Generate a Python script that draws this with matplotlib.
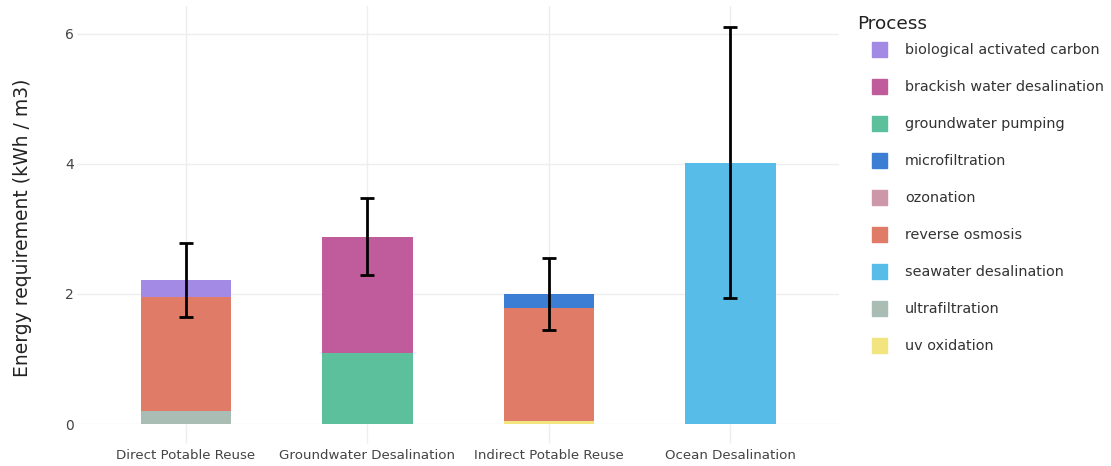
import matplotlib.pyplot as plt
import numpy as np
from matplotlib.patches import Rectangle

# data
scenarios = ['Direct Potable Reuse', 'Groundwater Desalination',
             'Indirect Potable Reuse', 'Ocean Desalination']
processes = ['biological activated carbon', 'brackish water desalination',
             'groundwater pumping', 'microfiltration', 'ozonation',
             'reverse osmosis', 'seawater desalination', 'ultrafiltration',
             'uv oxidation']
colors = ['#A38AE4', '#C05C9B', '#5CC09C', '#3C7ED3', '#CC97A9',
          '#E07B68', '#57BDE8', '#A9BDB5', '#F2E47E']

# stacking order, bottom to top
stack_order = ['uv oxidation', 'ultrafiltration', 'groundwater pumping',
               'ozonation', 'reverse osmosis', 'brackish water desalination',
               'seawater desalination', 'microfiltration',
               'biological activated carbon']

energy = {
    'biological activated carbon': [0.27, 0.0, 0.0, 0.0],
    'brackish water desalination': [0.0, 1.79, 0.0, 0.0],
    'groundwater pumping': [0.0, 1.09, 0.0, 0.0],
    'microfiltration': [0.0, 0.0, 0.22, 0.0],
    'ozonation': [0.0, 0.0, 0.0, 0.0],
    'reverse osmosis': [1.75, 0.0, 1.74, 0.0],
    'seawater desalination': [0.0, 0.0, 0.0, 4.02],
    'ultrafiltration': [0.20, 0.0, 0.0, 0.0],
    'uv oxidation': [0.0, 0.0, 0.04, 0.0],
}
err_low = [1.65, 2.29, 1.45, 1.94]
err_high = [2.78, 3.48, 2.55, 6.10]

fig = plt.figure(figsize=(11.11, 4.66), dpi=100)
ax = fig.add_axes([0.0693, 0.0901, 0.6862, 0.897])

x = np.arange(len(scenarios))
bottom = np.zeros(len(scenarios))
for p in stack_order:
    vals = np.array(energy[p])
    ax.bar(x, vals, width=0.5, bottom=bottom,
           color=colors[processes.index(p)], zorder=2)
    bottom += vals

totals = bottom
yerr = [totals - np.array(err_low), np.array(err_high) - totals]
ax.errorbar(x, totals, yerr=yerr, fmt='none', ecolor='black',
            elinewidth=2, capsize=4.7, capthick=2, zorder=3)

ax.set_xlim(-0.6, 3.6)
ax.set_ylim(0, 6.43)
ax.set_yticks([0, 2, 4, 6])
ax.set_xticks(x)
ax.set_xticklabels(scenarios, fontsize=9.6, color='#444444')
ax.tick_params(axis='y', labelsize=10, colors='#444444', length=0, pad=2)
ax.tick_params(axis='x', length=14, color='#eeeeee', width=1, pad=4)
ax.grid(True, color='#eeeeee', linewidth=1, zorder=0)
ax.set_axisbelow(True)
for s in ax.spines.values():
    s.set_visible(False)
ax.set_ylabel('Energy requirement (kWh / m3)', fontsize=13.5, color='#222222',
              va='center')
ax.yaxis.set_label_coords(-0.072, 0.47)

# legend on the right
fig.text(857 / 1111, 1 - 24 / 466, 'Process', fontsize=13.3, color='#222222',
         va='center', ha='left')
for i, p in enumerate(processes):
    yc = 50 + i * 37
    fig.patches.append(Rectangle((872 / 1111, 1 - (yc + 7) / 466),
                                 15 / 1111, 15 / 466,
                                 transform=fig.transFigure,
                                 color=colors[i]))
    fig.text(905 / 1111, 1 - yc / 466, p, fontsize=10.4, color='#333333',
             va='center', ha='left')

plt.savefig('out.png', dpi=100)
